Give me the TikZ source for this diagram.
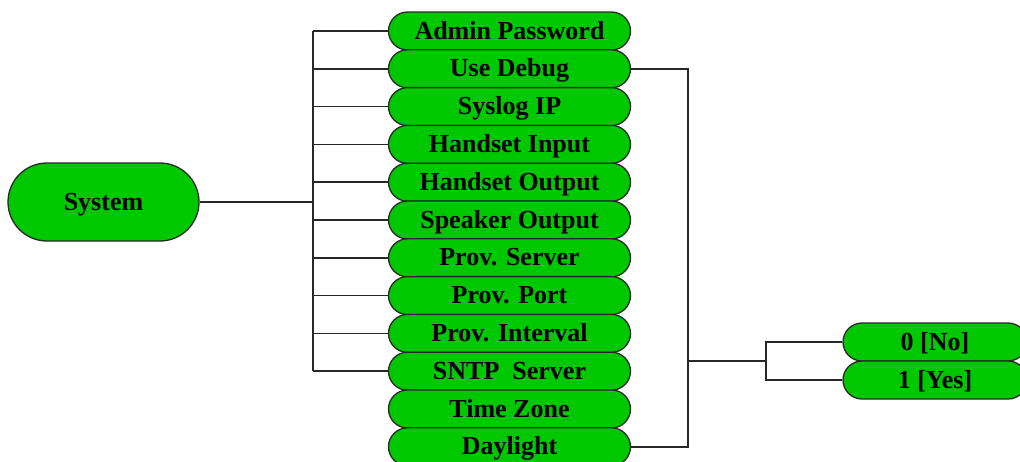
\documentclass[tikz,border=0pt]{standalone}
\usepackage{fontspec}
\setmainfont{Liberation Serif}
\usetikzlibrary{shapes.misc}
\definecolor{boxgreen}{RGB}{0,200,0}
\definecolor{linegray}{RGB}{40,40,40}
\begin{document}
\begin{tikzpicture}[x=1pt,y=-1pt,
  pill/.style={rounded rectangle, draw=linegray, line width=1.3pt, fill=boxgreen,
    minimum width=242pt, minimum height=38pt, inner sep=0pt,
    text height=19pt, text depth=3pt,
    font=\fontsize{26}{30}\selectfont\bfseries},
  conn/.style={draw=linegray, line width=1.5pt}]
\useasboundingbox (0,0) rectangle (1020,461);
\clip (0,0) rectangle (1020,461);
\node[pill, minimum width=191pt, minimum height=78pt] (system) at (103.5,202) {System};
\foreach \n/\t [count=\i from 0] in {admin/Admin Password, debug/Use Debug, syslog/Syslog IP,
  hin/Handset Input, hout/Handset Output, spk/Speaker Output, psrv/Prov. Server,
  pport/Prov. Port, pint/Prov. Interval, sntp/SNTP\ \ Server, tz/Time Zone, day/Daylight}
  \node[pill] (\n) at (509.5,{31+37.8*\i}) {\t};
\node[pill, minimum width=184pt] (no) at (935,342) {0 [No]};
\node[pill, minimum width=184pt] (yes) at (935,380) {1 [Yes]};
\coordinate (lbus) at (313,202);
\coordinate (rbus) at (688,361);
\coordinate (sbus) at (766,361);
\draw[conn] (system.east) -- (lbus);
\draw[conn] (admin.west -| lbus) -- (sntp.west -| lbus);
\foreach \n in {admin,debug,syslog,hin,hout,spk,psrv,pport,pint,sntp}
  \draw[conn] (\n.west) -- (\n.west -| lbus);
\draw[conn] (debug.east) -- (debug.east -| rbus) -- (day.east -| rbus) -- (day.east);
\draw[conn] (rbus) -- (sbus);
\draw[conn] (no.west) -- (no.west -| sbus) -- (yes.west -| sbus) -- (yes.west);
\end{tikzpicture}
\end{document}
